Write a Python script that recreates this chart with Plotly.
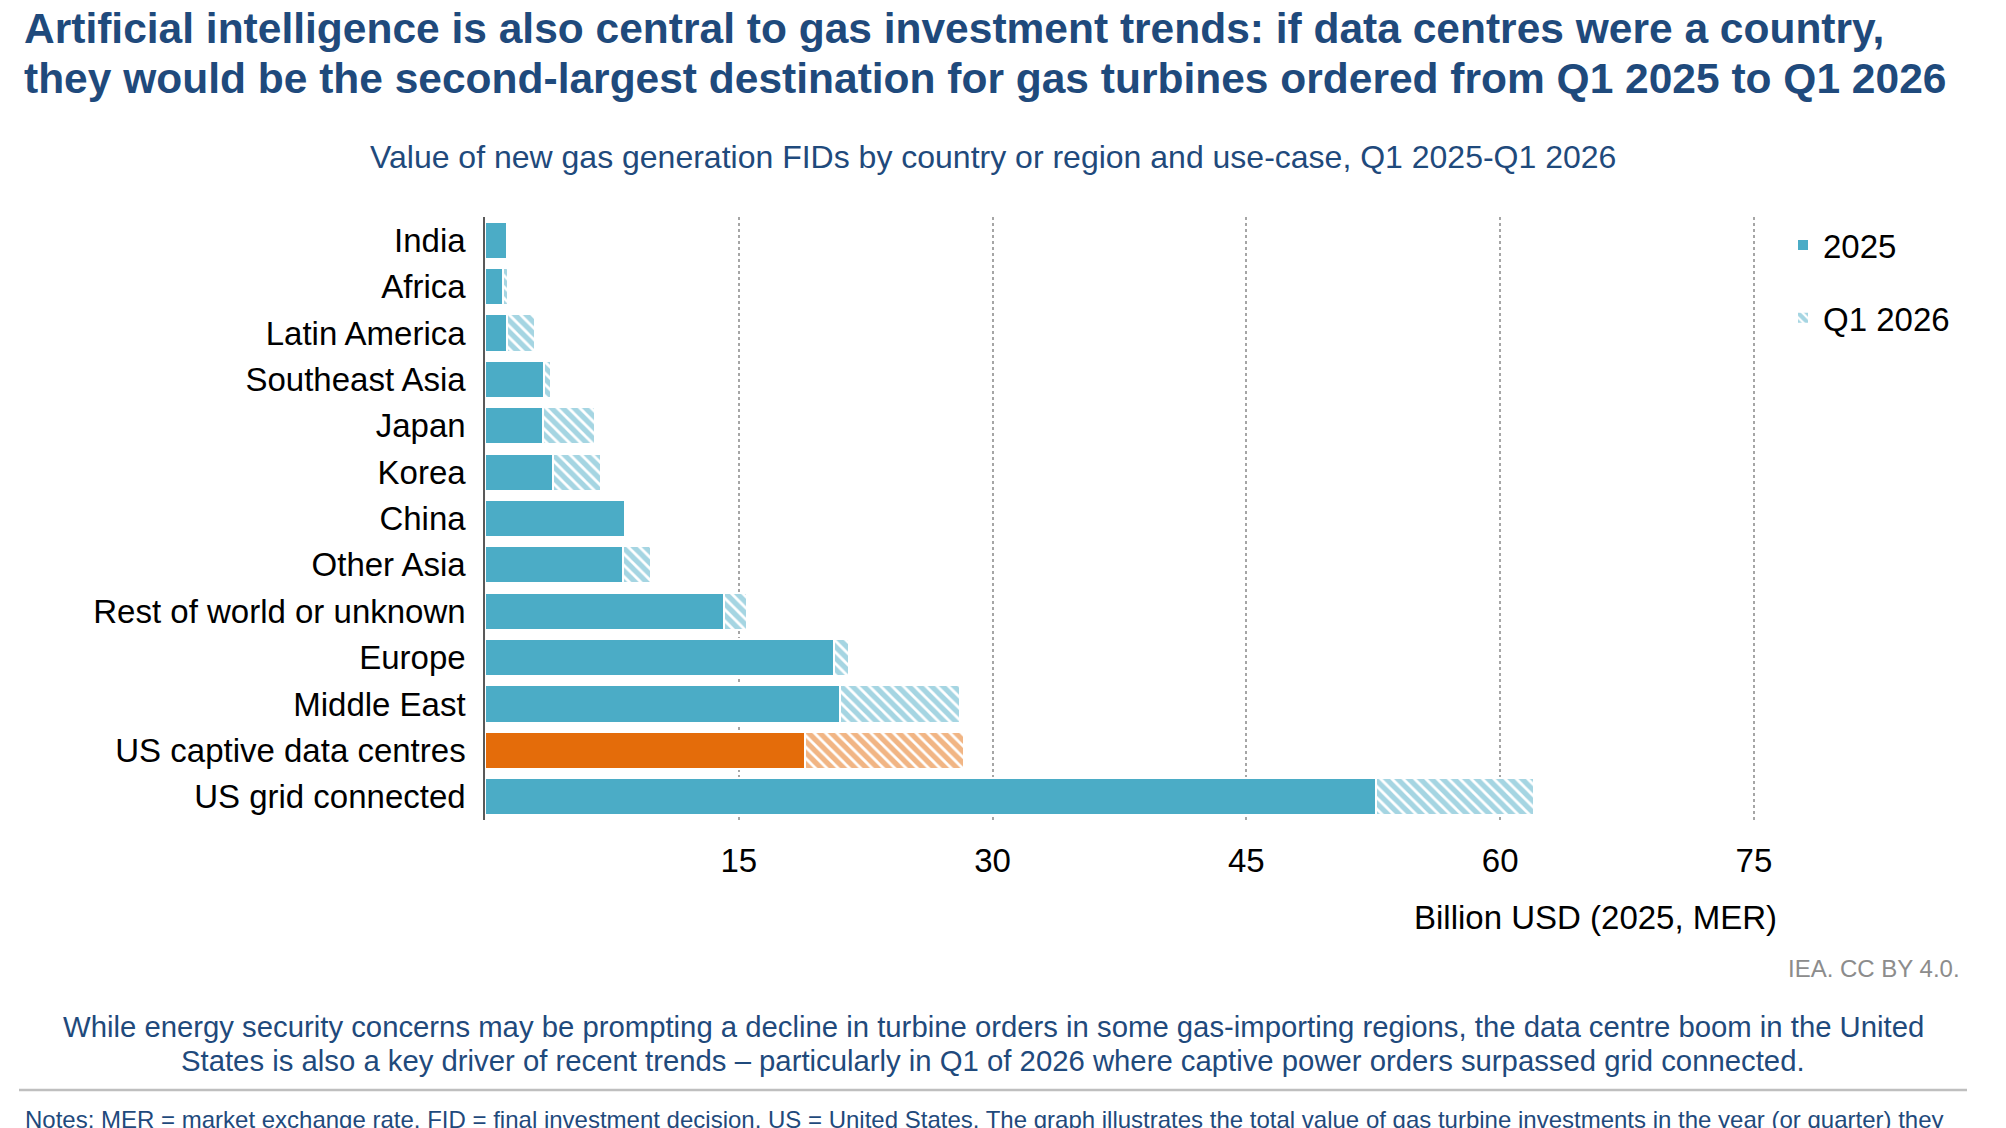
import plotly.graph_objects as go

# data (top to bottom, billion USD)
regions = ["India", "Africa", "Latin America", "Southeast Asia", "Japan", "Korea",
           "China", "Other Asia", "Rest of world or unknown", "Europe", "Middle East",
           "US captive data centres", "US grid connected"]
val_2025 = [1.28, 1.05, 1.28, 3.5, 3.4, 4.0, 8.25, 8.15, 14.1, 20.6, 21.0, 18.9, 52.65]
val_q1_2026 = [0.0, 0.3, 1.7, 0.4, 3.1, 2.85, 0.0, 1.65, 1.4, 0.9, 7.1, 9.4, 9.35]
xticks = [15, 30, 45, 60, 75]

TEAL = "#4BACC6"
ORANGE = "#E46C0A"
NAVY = "#1F4A7C"
FONT = "Arial, Liberation Sans, sans-serif"

colors = [ORANGE if r == "US captive data centres" else TEAL for r in regions]

# plot area in pixels
W, H = 2006, 1128
L, R, T, B = 485, 1759, 217, 820


def px_x(px):
    return (px - L) / (R - L)


def px_y(py):
    return (B - py) / (B - T)


fig = go.Figure()

fig.add_trace(go.Bar(y=regions, x=val_2025, orientation="h", name="2025",
                     legendgroup="a",
                     marker=dict(color=colors, line=dict(color="white", width=2))))

fig.add_trace(go.Bar(y=regions, x=val_q1_2026, orientation="h", name="Q1 2026",
                     legendgroup="b",
                     marker=dict(color="white", line=dict(color="white", width=2),
                                 pattern=dict(shape="\\", fgcolor=colors, bgcolor="white",
                                              size=8, solidity=0.65))))

fig.update_layout(
    width=W, height=H,
    margin=dict(l=L, r=W - R, t=T, b=H - B),
    barmode="stack", bargap=0.2,
    plot_bgcolor="white", paper_bgcolor="white",
    font=dict(family=FONT, size=33, color="black"),
    legend=dict(x=px_x(1783), xanchor="left", y=1.0, yanchor="top",
                traceorder="grouped", tracegroupgap=27,
                font=dict(size=33), bgcolor="rgba(0,0,0,0)"),
    showlegend=True,
)

fig.update_xaxes(range=[0, 75.3], tickvals=xticks, ticks="", ticklabelstandoff=18,
                 showgrid=True, gridcolor="#A6A6A6", gridwidth=2, griddash="dot",
                 zeroline=False, showline=False, tickfont=dict(size=33))
fig.update_yaxes(autorange="reversed", ticks="", ticklabelstandoff=11,
                 showline=True, linecolor="#595959", linewidth=1.5,
                 showgrid=False, zeroline=False, tickfont=dict(size=33))

ann = [
    dict(text="<b>Artificial intelligence is also central to gas investment trends: if data centres were a country,</b>",
         x=px_x(22), y=px_y(28), xanchor="left", font=dict(size=42.5, color=NAVY)),
    dict(text="<b>they would be the second-largest destination for gas turbines ordered from Q1 2025 to Q1 2026</b>",
         x=px_x(22), y=px_y(79), xanchor="left", font=dict(size=42.5, color=NAVY)),
    dict(text="Value of new gas generation FIDs by country or region and use-case, Q1 2025-Q1 2026",
         x=px_x(993), y=px_y(157), xanchor="center", font=dict(size=32, color=NAVY)),
    dict(text="Billion USD (2025, MER)", x=px_x(1779), y=px_y(917), xanchor="right",
         font=dict(size=33, color="black")),
    dict(text="IEA. CC BY 4.0.", x=px_x(1962), y=px_y(968), xanchor="right",
         font=dict(size=24, color="#8C8C8C")),
    dict(text="While energy security concerns may be prompting a decline in turbine orders in some gas-importing regions, the data centre boom in the United",
         x=px_x(993), y=px_y(1026), xanchor="center", font=dict(size=29.3, color=NAVY)),
    dict(text="States is also a key driver of recent trends \u2013 particularly in Q1 of 2026 where captive power orders surpassed grid connected.",
         x=px_x(993), y=px_y(1060), xanchor="center", font=dict(size=29.3, color=NAVY)),
    dict(text="Notes: MER = market exchange rate. FID = final investment decision. US = United States. The graph illustrates the total value of gas turbine investments in the year (or quarter) they",
         x=px_x(23), y=px_y(1119), xanchor="left", font=dict(size=24, color=NAVY)),
]
for a in ann:
    fig.add_annotation(xref="paper", yref="paper", yanchor="middle", showarrow=False, **a)

fig.add_shape(type="line", xref="paper", yref="paper", x0=px_x(19), x1=px_x(1967),
              y0=px_y(1090), y1=px_y(1090), line=dict(color="#BFBFBF", width=2.5))

fig.write_html("out.html", config={"displayModeBar": False},
               post_script="document.body.style.margin='0px';")
